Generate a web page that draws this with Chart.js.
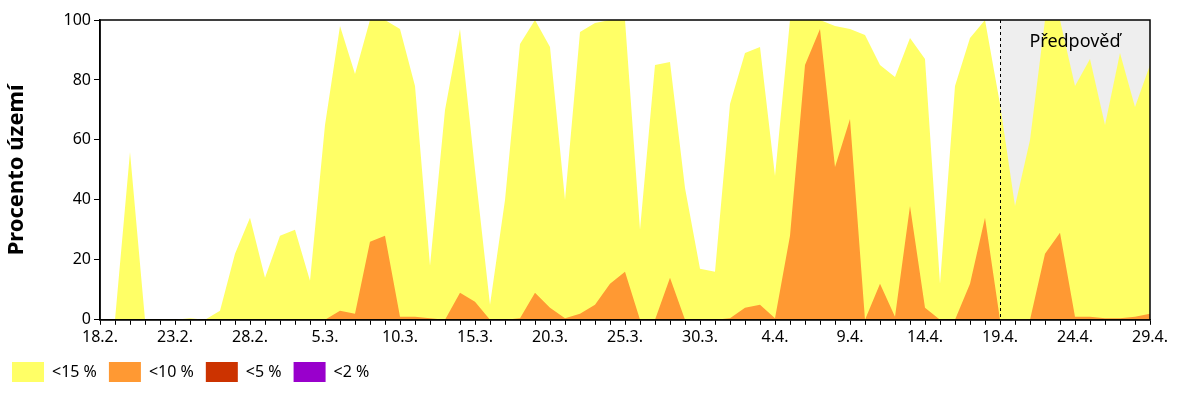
<!DOCTYPE html>
<html><head><meta charset="utf-8">
<script src="https://cdn.jsdelivr.net/npm/chart.js@4/dist/chart.umd.min.js"></script>
<style>html,body{margin:0;padding:0;background:#fff}#w{width:1200px;height:400px}</style>
</head><body><div id="w"><canvas id="c"></canvas></div>
<script>
const months = [[2,18,28],[3,1,31],[4,1,29]];
const labels = [];
for (const [m,a,b] of months) for (let d=a; d<=b; d++) labels.push(d+'.'+m+'.');
const below15 = [0,0,56,0,0,0,0.5,0,3,22,34,14,28,30,13,65,98,82,100,100,97,78,18,70,97,50,5,40,92,100,91,40,96,99,100,100,30,85,86,44,17,16,72,89,91,48,100,100,100,98,97,95,85,81,94,87,12,78,94,100,72,38,60,100,100,78,87,65,89,71,85];
const below10 = [0,0,0,0,0,0,0,0,0,0,0,0,0,0,0,0,3,2,26,28,1,1,0.5,0,9,6,0,0,0.5,9,4,0.5,2,5,12,16,0,0,14,0,0,0,0.5,4,5,0.5,28,85,97,51,67,0,12,1,38,4,0,0,12,34,0,0,0,22,29,1,1,0.5,0.5,1,2];
const below5 = labels.map(()=>0);
const below2 = labels.map(()=>0);
const forecastStart = 60;
const forecastText = 'Předpověď';

const forecast = {id:'fc', beforeDatasetsDraw(ch){
  const {ctx, chartArea:a, scales:{x}} = ch;
  const x0 = x.getPixelForValue(forecastStart);
  ctx.save();
  ctx.fillStyle='#eeeeee'; ctx.fillRect(x0,a.top,a.right-x0,a.bottom-a.top);
  ctx.restore();
}, afterDatasetsDraw(ch){
  const {ctx, chartArea:a, scales:{x}} = ch;
  const x0 = x.getPixelForValue(forecastStart);
  ctx.save();
  ctx.strokeStyle='#000'; ctx.lineWidth=1; ctx.setLineDash([3,3]);
  ctx.beginPath(); ctx.moveTo(x0+0.5,a.top); ctx.lineTo(x0+0.5,a.bottom); ctx.stroke();
  ctx.setLineDash([]);
  ctx.fillStyle='#000'; ctx.font='18px "Noto Sans"'; ctx.textAlign='center'; ctx.textBaseline='middle';
  ctx.fillText(forecastText,(x0+a.right)/2,a.top+22);
  ctx.strokeStyle='#000'; ctx.lineWidth=1.5; ctx.strokeRect(a.left,a.top,a.right-a.left,a.bottom-a.top);
  ctx.restore();
}};
const shiftLegend = {id:'shiftLegend', beforeDraw(ch){
  const lg = ch.legend; if (!lg || !lg.legendHitBoxes) return;
  if (!lg._shifted) { lg.legendHitBoxes.forEach(h=>{h.left+=88;}); lg._shifted=true; }
}, afterLayout(ch){ if (ch.legend) ch.legend._shifted=false; }};
const ds = (l,d,c)=>({label:l,data:d,backgroundColor:c,borderColor:c,borderWidth:0,fill:'origin',pointRadius:0,tension:0});
new Chart(document.getElementById('c'),{type:'line',
 data:{labels, datasets:[ds('<2 %',below2,'#9900cc'),ds('<5 %',below5,'#cc3300'),ds('<10 %',below10,'#ff9933'),ds('<15 %',below15,'#ffff66')]},
 options:{responsive:true,maintainAspectRatio:false,animation:false,
  layout:{padding:{left:0,right:50,top:20,bottom:8}},
  plugins:{tooltip:{enabled:false},
   legend:{position:'bottom',align:'start',reverse:true,labels:{boxWidth:32,boxHeight:20,font:{family:'Noto Sans',size:16},color:'#000',padding:12}}},
  scales:{
   x:{offset:false,grid:{drawOnChartArea:false,color:'#000',tickLength:5},border:{color:'#000',width:1.5},
      ticks:{autoSkip:false,maxRotation:0,color:'#000',font:{family:'Noto Sans',size:16},
       callback:(v,i)=> i%5===0?labels[i]:''}},
   y:{min:0,max:100,afterFit:(s)=>{s.width=100;},grid:{drawOnChartArea:false,color:'#000',tickLength:6},border:{color:'#000',width:1.5},
      ticks:{stepSize:20,color:'#000',font:{family:'Noto Sans',size:16}},
      title:{display:true,text:'Procento území',color:'#000',font:{family:'Noto Sans',size:22,weight:'bold'}}}
  }}, plugins:[forecast, shiftLegend]});
</script></body></html>
